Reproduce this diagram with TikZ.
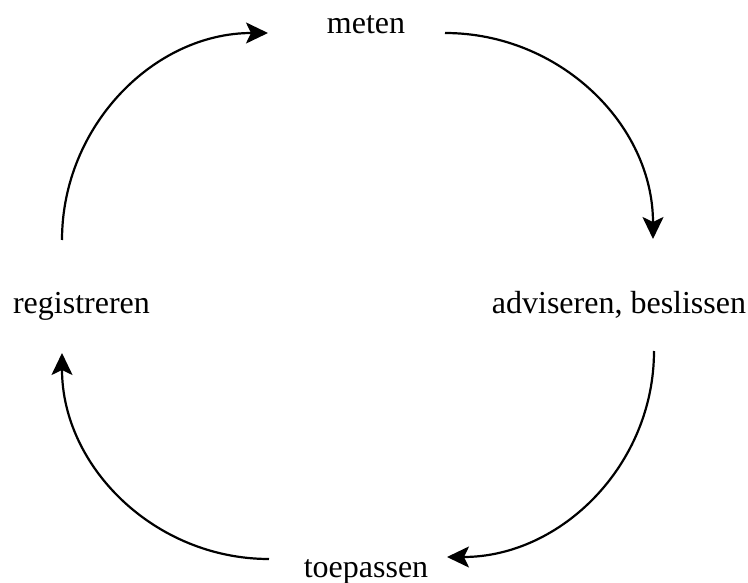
\documentclass[tikz,border=0pt]{standalone}
\usepackage{fontspec}
\setmainfont{Liberation Serif}
\usetikzlibrary{arrows.meta}
\begin{document}
\begin{tikzpicture}[x=1pt,y=-1pt,
  lbl/.style={anchor=base,inner sep=0pt,font=\fontsize{32}{38}\selectfont},
  cyc/.style={line width=2.2pt,-{Stealth[length=22pt,width=21pt,inset=5pt]}}]
\useasboundingbox[fill=white] (0,0) rectangle (748,583);
\node[lbl] (meten) at (366,34) {meten};
\node[lbl] (adv) at (619,313) {adviseren, beslissen};
\node[lbl] (toep) at (366,577) {toepassen};
\node[lbl] (reg) at (81.5,313) {registreren};
\coordinate (s1) at (62,240);  \coordinate (e1) at (268,33);
\coordinate (s2) at (445,33);  \coordinate (e2) at (653,239);
\coordinate (s3) at (654,351); \coordinate (e3) at (447,557);
\coordinate (s4) at (269,559); \coordinate (e4) at (62,353);
\draw[cyc] (s1) to[out=90,in=180] (e1);
\draw[cyc] (s2) to[out=0,in=90] (e2);
\draw[cyc] (s3) to[out=-90,in=0] (e3);
\draw[cyc] (s4) to[out=180,in=-90] (e4);
\end{tikzpicture}
\end{document}
